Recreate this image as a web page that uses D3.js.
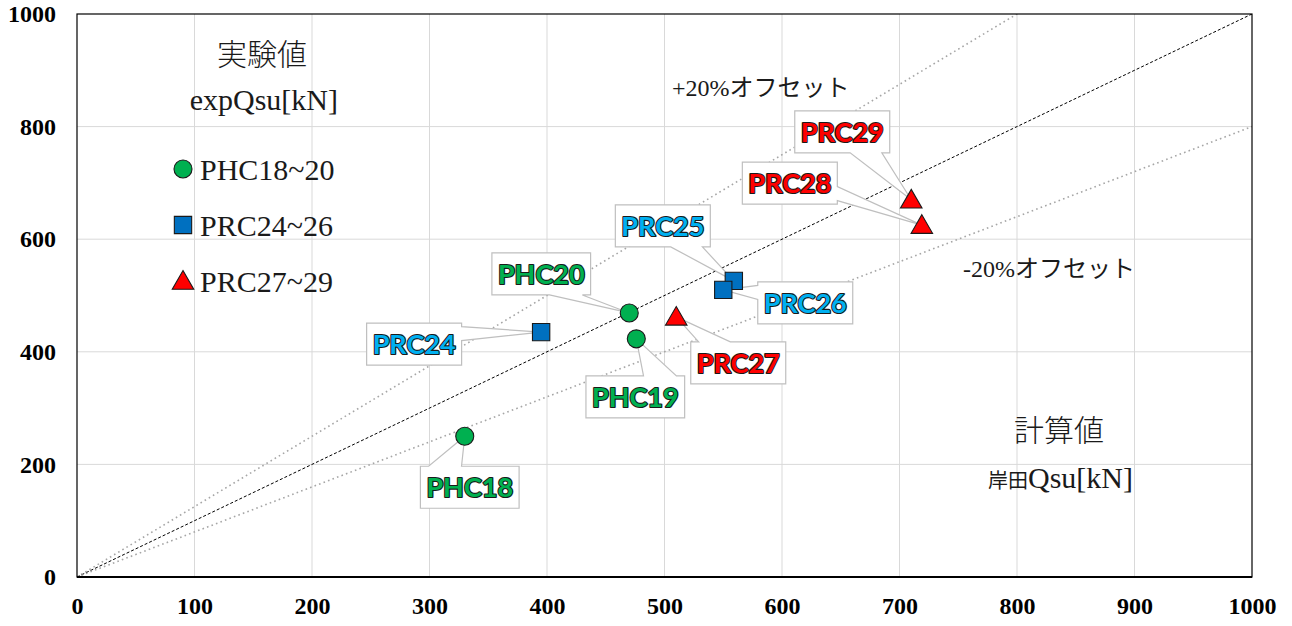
<!DOCTYPE html>
<html>
<head>
<meta charset="utf-8">
<script src="https://cdn.jsdelivr.net/npm/d3@7"></script>
<style>
  body { margin: 0; background: #fff; }
  svg { display: block; }
</style>
</head>
<body>
<div id="chart"></div>
<script>
// ---- data ----
var pointNames = ['PHC18', 'PHC19', 'PHC20', 'PRC24', 'PRC25', 'PRC26', 'PRC27', 'PRC28', 'PRC29'];
var calcQsu   = [330, 476, 470, 395, 559, 550, 510, 719, 710];   // 岸田Qsu [kN]
var expQsu    = [250, 423, 469, 435, 526, 510, 462, 625, 670];   // expQsu [kN]
var pointGroup = [0, 0, 0, 1, 1, 1, 2, 2, 2];
var groupNames = ['PHC18~20', 'PRC24~26', 'PRC27~29'];
var xTicks = [0, 100, 200, 300, 400, 500, 600, 700, 800, 900, 1000];
var yTicks = [0, 200, 400, 600, 800, 1000];
var refSlopes = [1.25, 1, 0.8];   // +20%, 1:1, -20%

// ---- layout ----
var W = 1292, H = 626;
var x = d3.scaleLinear().domain([0, 1000]).range([77, 1252]);
var y = d3.scaleLinear().domain([0, 1000]).range([577, 14]);

var markerFill = ['#00b050', '#0070c0', '#ff0000'];
var labelFill  = ['#00b050', '#00b0f0', '#ff0000'];

// callout box centre relative to its point (px)
var calloutOffset = {
    PHC18: [5, 51], PHC19: [-1, 58], PHC20: [-88, -39],
    PRC24: [-127, 12], PRC25: [-71, -55], PRC26: [82, 13],
    PRC27: [62, 46], PRC28: [-132, -42], PRC29: [-69, -68]
};

var svg = d3.select('#chart').append('svg')
    .attr('width', W)
    .attr('height', H);

// grid
svg.append('g').selectAll('line.vx')
    .data(xTicks.slice(1, -1))
    .enter().append('line')
        .attr('x1', d => x(d)).attr('x2', d => x(d))
        .attr('y1', y(0)).attr('y2', y(1000))
        .attr('stroke', '#d9d9d9').attr('stroke-width', 1);

svg.append('g').selectAll('line.hy')
    .data(yTicks.slice(1, -1))
    .enter().append('line')
        .attr('x1', x(0)).attr('x2', x(1000))
        .attr('y1', d => y(d)).attr('y2', d => y(d))
        .attr('stroke', '#d9d9d9').attr('stroke-width', 1);

// reference lines, clipped to plot area
svg.append('clipPath').attr('id', 'plotclip')
    .append('rect')
        .attr('x', x(0)).attr('y', y(1000))
        .attr('width', x(1000) - x(0)).attr('height', y(0) - y(1000));

svg.append('g').attr('clip-path', 'url(#plotclip)')
    .selectAll('line')
    .data(refSlopes)
    .enter().append('line')
        .attr('x1', x(0)).attr('y1', y(0))
        .attr('x2', x(1000)).attr('y2', d => y(1000 * d))
        .attr('stroke', d => d === 1 ? '#000' : '#a6a6a6')
        .attr('stroke-width', d => d === 1 ? 1 : 1.6)
        .attr('stroke-dasharray', d => d === 1 ? '3,2' : '1.6,3.2');

// frame
svg.append('rect')
    .attr('x', x(0)).attr('y', y(1000))
    .attr('width', x(1000) - x(0)).attr('height', y(0) - y(1000))
    .attr('fill', 'none').attr('stroke', '#000').attr('stroke-width', 1.2);
svg.append('line')
    .attr('x1', x(0)).attr('x2', x(1000)).attr('y1', y(0)).attr('y2', y(0))
    .attr('stroke', '#000').attr('stroke-width', 2);

// axes (labels only)
var xAxis = svg.append('g')
    .attr('transform', 'translate(0,' + y(0) + ')')
    .call(d3.axisBottom(x).tickValues(xTicks).tickFormat(d3.format('d')).tickSize(0).tickPadding(20));
var yAxis = svg.append('g')
    .attr('transform', 'translate(' + x(0) + ',0)')
    .call(d3.axisLeft(y).tickValues(yTicks).tickFormat(d3.format('d')).tickSize(0).tickPadding(21));
[xAxis, yAxis].forEach(a => {
    a.select('.domain').remove();
    a.selectAll('text')
        .attr('font-family', '"Liberation Serif", "Times New Roman", serif')
        .attr('font-weight', 'bold')
        .attr('font-size', 24)
        .attr('fill', '#000');
});

// callouts
function calloutPath(bx0, by0, bx1, by1, px, py) {
    var cx = (bx0 + bx1) / 2, cy = (by0 + by1) / 2;
    var w = bx1 - bx0, h = by1 - by0;
    var dx = (px - cx) / w, dy = (py - cy) / h;
    var side;
    if (Math.abs(dx) > Math.abs(dy)) side = dx > 0 ? 'right' : 'left';
    else side = dy > 0 ? 'bottom' : 'top';

    var f = (side === 'top' || side === 'bottom')
        ? (px < cx ? [1 / 12, 5 / 12] : [7 / 12, 11 / 12])
        : (py < cy ? [1 / 12, 5 / 12] : [7 / 12, 11 / 12]);

    var p = d3.path();
    p.moveTo(bx0, by0);
    if (side === 'top') {
        p.lineTo(bx0 + w * f[0], by0); p.lineTo(px, py); p.lineTo(bx0 + w * f[1], by0);
    }
    p.lineTo(bx1, by0);
    if (side === 'right') {
        p.lineTo(bx1, by0 + h * f[0]); p.lineTo(px, py); p.lineTo(bx1, by0 + h * f[1]);
    }
    p.lineTo(bx1, by1);
    if (side === 'bottom') {
        p.lineTo(bx0 + w * f[1], by1); p.lineTo(px, py); p.lineTo(bx0 + w * f[0], by1);
    }
    p.lineTo(bx0, by1);
    if (side === 'left') {
        p.lineTo(bx0, by0 + h * f[1]); p.lineTo(px, py); p.lineTo(bx0, by0 + h * f[0]);
    }
    p.closePath();
    return p.toString();
}

var callouts = svg.append('g');
pointNames.forEach((name, i) => {
    var px = x(calcQsu[i]), py = y(expQsu[i]);
    var off = calloutOffset[name];
    var cx = px + off[0], cy = py + off[1];
    var g = callouts.append('g');
    var path = g.append('path')
        .attr('fill', '#fff')
        .attr('stroke', '#bfbfbf')
        .attr('stroke-width', 1.2);
    var t = g.append('text')
        .attr('x', cx).attr('y', cy + 10)
        .attr('text-anchor', 'middle')
        .attr('font-family', 'Lato, "Open Sans", sans-serif')
        .attr('font-weight', 'bold')
        .attr('font-size', 27)
        .attr('fill', labelFill[pointGroup[i]])
        .attr('stroke', '#1a1a1a')
        .attr('stroke-width', 2.2)
        .attr('paint-order', 'stroke')
        .attr('stroke-linejoin', 'round')
        .text(name);
    var tw = t.node().getComputedTextLength();
    var bw = tw + 12, bh = 42;
    path.attr('d', calloutPath(cx - bw / 2, cy - bh / 2, cx + bw / 2, cy + bh / 2, px, py));
});

// markers
var symbols = [d3.symbolCircle, d3.symbolSquare, d3.symbolTriangle];
var symbolSize = [255, 300, 200];
svg.append('g').selectAll('path')
    .data(pointNames.map((n, i) => ({name: n, cx: calcQsu[i], ex: expQsu[i], g: pointGroup[i]})))
    .enter().append('path')
        .attr('transform', d => 'translate(' + x(d.cx) + ',' + (y(d.ex) + (d.g === 2 ? 2 : 0)) + ')')
        .attr('d', d => d3.symbol().type(symbols[d.g]).size(symbolSize[d.g])())
        .attr('fill', d => markerFill[d.g])
        .attr('stroke', '#1a1a1a')
        .attr('stroke-width', 1.1);

// legend
var serif = '"Liberation Serif", "Times New Roman", "Noto Sans CJK JP", serif';
var cjk = '"Noto Sans CJK JP", sans-serif';

svg.append('text')
    .attr('x', 262).attr('y', 65)
    .attr('text-anchor', 'middle')
    .attr('font-family', cjk).attr('font-weight', 300).attr('font-size', 30)
    .attr('fill', '#1a1a1a')
    .text('実験値');
svg.append('text')
    .attr('x', 338).attr('y', 110)
    .attr('text-anchor', 'end')
    .attr('font-family', serif).attr('font-size', 30)
    .attr('fill', '#1a1a1a')
    .text('expQsu[kN]');

var legend = svg.append('g').selectAll('g')
    .data(groupNames)
    .enter().append('g')
        .attr('transform', (d, i) => 'translate(183,' + (169 + i * 56) + ')');
legend.append('path')
    .attr('transform', (d, i) => 'translate(0,' + (i === 2 ? 2 : 0) + ')')
    .attr('d', (d, i) => d3.symbol().type(symbols[i]).size(symbolSize[i])())
    .attr('fill', (d, i) => markerFill[i])
    .attr('stroke', '#1a1a1a')
    .attr('stroke-width', 1.1);
legend.append('text')
    .attr('x', 17).attr('y', 11)
    .attr('font-family', serif).attr('font-size', 30)
    .attr('fill', '#1a1a1a')
    .text(d => d);

// offset line notes
svg.append('text')
    .attr('x', 672).attr('y', 96)
    .attr('font-family', serif).attr('font-size', 24)
    .attr('fill', '#1a1a1a')
    .text('+20%オフセット');
svg.append('text')
    .attr('x', 963).attr('y', 277)
    .attr('font-family', serif).attr('font-size', 24)
    .attr('fill', '#1a1a1a')
    .text('-20%オフセット');

// x axis caption
svg.append('text')
    .attr('x', 1059).attr('y', 441)
    .attr('text-anchor', 'middle')
    .attr('font-family', cjk).attr('font-weight', 300).attr('font-size', 30)
    .attr('fill', '#1a1a1a')
    .text('計算値');
var cap = svg.append('text')
    .attr('x', 1133).attr('y', 488)
    .attr('text-anchor', 'end')
    .attr('font-family', serif).attr('font-size', 30)
    .attr('fill', '#1a1a1a');
cap.append('tspan')
    .attr('font-family', cjk).attr('font-size', 20)
    .text('岸田');
cap.append('tspan').text('Qsu[kN]');
</script>
</body>
</html>
